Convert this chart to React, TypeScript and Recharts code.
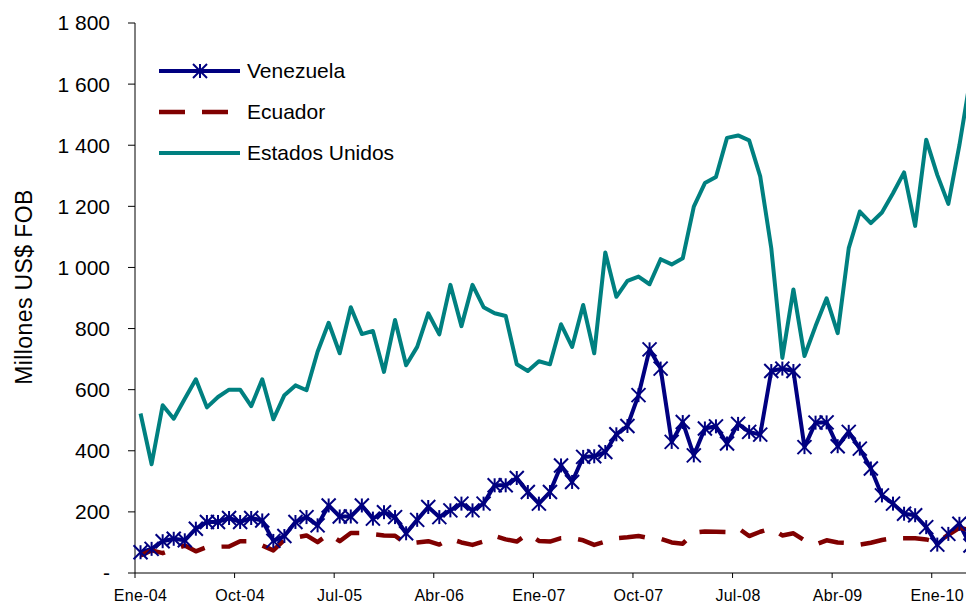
import { LineChart, Line, XAxis, YAxis, Legend } from 'recharts'

// Exportaciones mensuales, millones US$ FOB (Ene-04 .. Abr-10)
const venezuela = [
  68, 79, 104, 112, 107, 145, 167, 167, 180, 167, 180, 172,
  105, 121, 167, 183, 156, 221, 185, 185, 221, 178, 199, 183,
  130, 174, 216, 183, 205, 227, 205, 227, 287, 287, 311, 265,
  227, 265, 352, 298, 380, 382, 396, 454, 481, 582, 732, 669,
  429, 494, 385, 473, 480, 424, 488, 462, 453, 661, 669, 661,
  412, 492, 493, 415, 462, 407, 342, 254, 227, 194, 189, 150,
  93, 128, 161, 90,
]

const ecuador = [
  57, 74, 65, 78, 90, 71, 85, 86, 87, 104, 104, 90,
  74, 109, 116, 123, 101, 128, 104, 131, 131, 127, 123, 122,
  96, 100, 104, 93, 112, 100, 92, 103, 121, 110, 103, 128,
  105, 103, 114, 114, 107, 92, 103, 114, 117, 121, 114, 112,
  100, 96, 132, 136, 135, 134, 147, 121, 135, 146, 123, 130,
  107, 93, 107, 100, 98, 93, 99, 108, 114, 114, 114, 110,
  101, 125, 148, 140,
]

const estadosUnidos = [
  522, 356, 549, 505, 570, 634, 542, 576, 600, 600, 546, 634,
  503, 582, 614, 598, 724, 819, 719, 870, 782, 792, 658, 828,
  680, 740, 850, 781, 943, 808, 943, 870, 850, 841, 683, 661,
  693, 683, 814, 740, 877, 719, 1049, 904, 956, 970, 945, 1027,
  1010, 1030, 1199, 1276, 1296, 1424, 1432, 1416, 1298, 1063, 704, 928,
  710, 808, 899, 785, 1063, 1183, 1145, 1180, 1243, 1311, 1136, 1418,
  1303, 1208, 1400, 1620,
]

const tickIndex = [0, 9, 18, 27, 36, 45, 54, 63, 72]
const tickLabels = ['Ene-04', 'Oct-04', 'Jul-05', 'Abr-06', 'Ene-07', 'Oct-07', 'Jul-08', 'Abr-09', 'Ene-10']
const yTicks = [0, 200, 400, 600, 800, 1000, 1200, 1400, 1600, 1800]

const series = [
  { key: 'venezuela', name: 'Venezuela', color: '#000080', dash: undefined, width: 4, star: true },
  { key: 'ecuador', name: 'Ecuador', color: '#800000', dash: '26 17', width: 4.5, star: false },
  { key: 'estadosUnidos', name: 'Estados Unidos', color: '#008080', dash: undefined, width: 4, star: false },
]

const data = venezuela.map((v, i) => ({
  i,
  venezuela: v,
  ecuador: ecuador[i],
  estadosUnidos: estadosUnidos[i],
}))

const FONT = '"Liberation Sans", Arial, sans-serif'
const CHART_W = 990
const CHART_H = 603
const LEFT = 135
const RIGHT = 14
const TOP = 23
const X_AXIS_H = 30
const N = venezuela.length
const BAND = (CHART_W - LEFT - RIGHT) / N
const AXIS_Y = CHART_H - X_AXIS_H

function Star({ cx, cy, color }: { cx: number; cy: number; color: string }) {
  const r = 7
  return (
    <g stroke={color} strokeWidth={2}>
      <line x1={cx - r} y1={cy - r} x2={cx + r} y2={cy + r} />
      <line x1={cx - r} y1={cy + r} x2={cx + r} y2={cy - r} />
      <line x1={cx} y1={cy - r} x2={cx} y2={cy + r} />
    </g>
  )
}

function renderStar(props: any) {
  const { cx, cy, index } = props
  if (cx == null || cy == null) return <g key={index} />
  return <Star key={index} cx={cx} cy={cy} color="#000080" />
}

function XTick(props: any) {
  const { x, payload } = props
  const label = tickLabels[tickIndex.indexOf(payload.value)]
  return (
    <g>
      <line x1={x - BAND / 2} y1={AXIS_Y} x2={x - BAND / 2} y2={AXIS_Y + 5} stroke="#000" />
      <text x={x} y={AXIS_Y + 28} textAnchor="middle" fontSize={16} letterSpacing={0.3} fill="#000" fontFamily={FONT}>
        {label}
      </text>
    </g>
  )
}

function formatY(v: number) {
  if (v === 0) return '-'
  if (v >= 1000) return `${Math.floor(v / 1000)} ${String(v % 1000).padStart(3, '0')}`
  return String(v)
}

// legend keeps the series order (Venezuela, Ecuador, Estados Unidos)
function LegendBox() {
  return (
    <svg width={280} height={125} style={{ display: 'block' }}>
      {series.map((s, k) => {
        const cy = 16 + k * 41
        return (
          <g key={s.key}>
            <line x1={0} y1={cy} x2={81} y2={cy} stroke={s.color} strokeWidth={s.width} strokeDasharray={s.dash} />
            {s.star && <Star cx={41} cy={cy} color={s.color} />}
            <text x={88} y={cy} dy="0.35em" fontSize={21} fill="#000" fontFamily={FONT}>
              {s.name}
            </text>
          </g>
        )
      })}
    </svg>
  )
}

export default function App() {
  return (
    <div style={{ position: 'absolute', left: 0, top: 0, width: 966, height: 603, overflow: 'hidden', background: '#fff', fontFamily: FONT }}>
      <LineChart width={CHART_W} height={CHART_H} data={data} margin={{ top: TOP, right: RIGHT, bottom: 0, left: 0 }}>
        <XAxis
          dataKey="i"
          type="number"
          domain={[-0.5, N - 0.5]}
          ticks={tickIndex}
          interval={0}
          height={X_AXIS_H}
          tickLine={false}
          axisLine={{ stroke: '#000', strokeWidth: 1 }}
          tick={<XTick />}
        />
        <YAxis
          width={LEFT}
          domain={[0, 1800]}
          ticks={yTicks}
          interval={0}
          tickFormatter={formatY}
          tickSize={7}
          tickMargin={18}
          axisLine={{ stroke: '#000', strokeWidth: 1 }}
          tickLine={{ stroke: '#000' }}
          tick={{ fill: '#000', fontSize: 21, fontFamily: FONT }}
          label={{
            content: () => (
              <text
                x={24}
                y={287}
                transform="rotate(-90 24 287)"
                textAnchor="middle"
                dy="0.35em"
                fontSize={23}
                letterSpacing={0.4}
                fill="#000"
                fontFamily={FONT}
              >
                Millones US$ FOB
              </text>
            ),
          }}
        />
        <Legend
          layout="vertical"
          align="center"
          verticalAlign="middle"
          content={<LegendBox />}
          wrapperStyle={{ left: 159, top: 55, width: 280 }}
        />
        {series.map((s) => (
          <Line
            key={s.key}
            type="linear"
            dataKey={s.key}
            name={s.name}
            stroke={s.color}
            strokeWidth={s.width}
            strokeDasharray={s.dash}
            strokeLinejoin="round"
            dot={s.star ? renderStar : false}
            activeDot={false}
            isAnimationActive={false}
          />
        ))}
      </LineChart>
    </div>
  )
}
